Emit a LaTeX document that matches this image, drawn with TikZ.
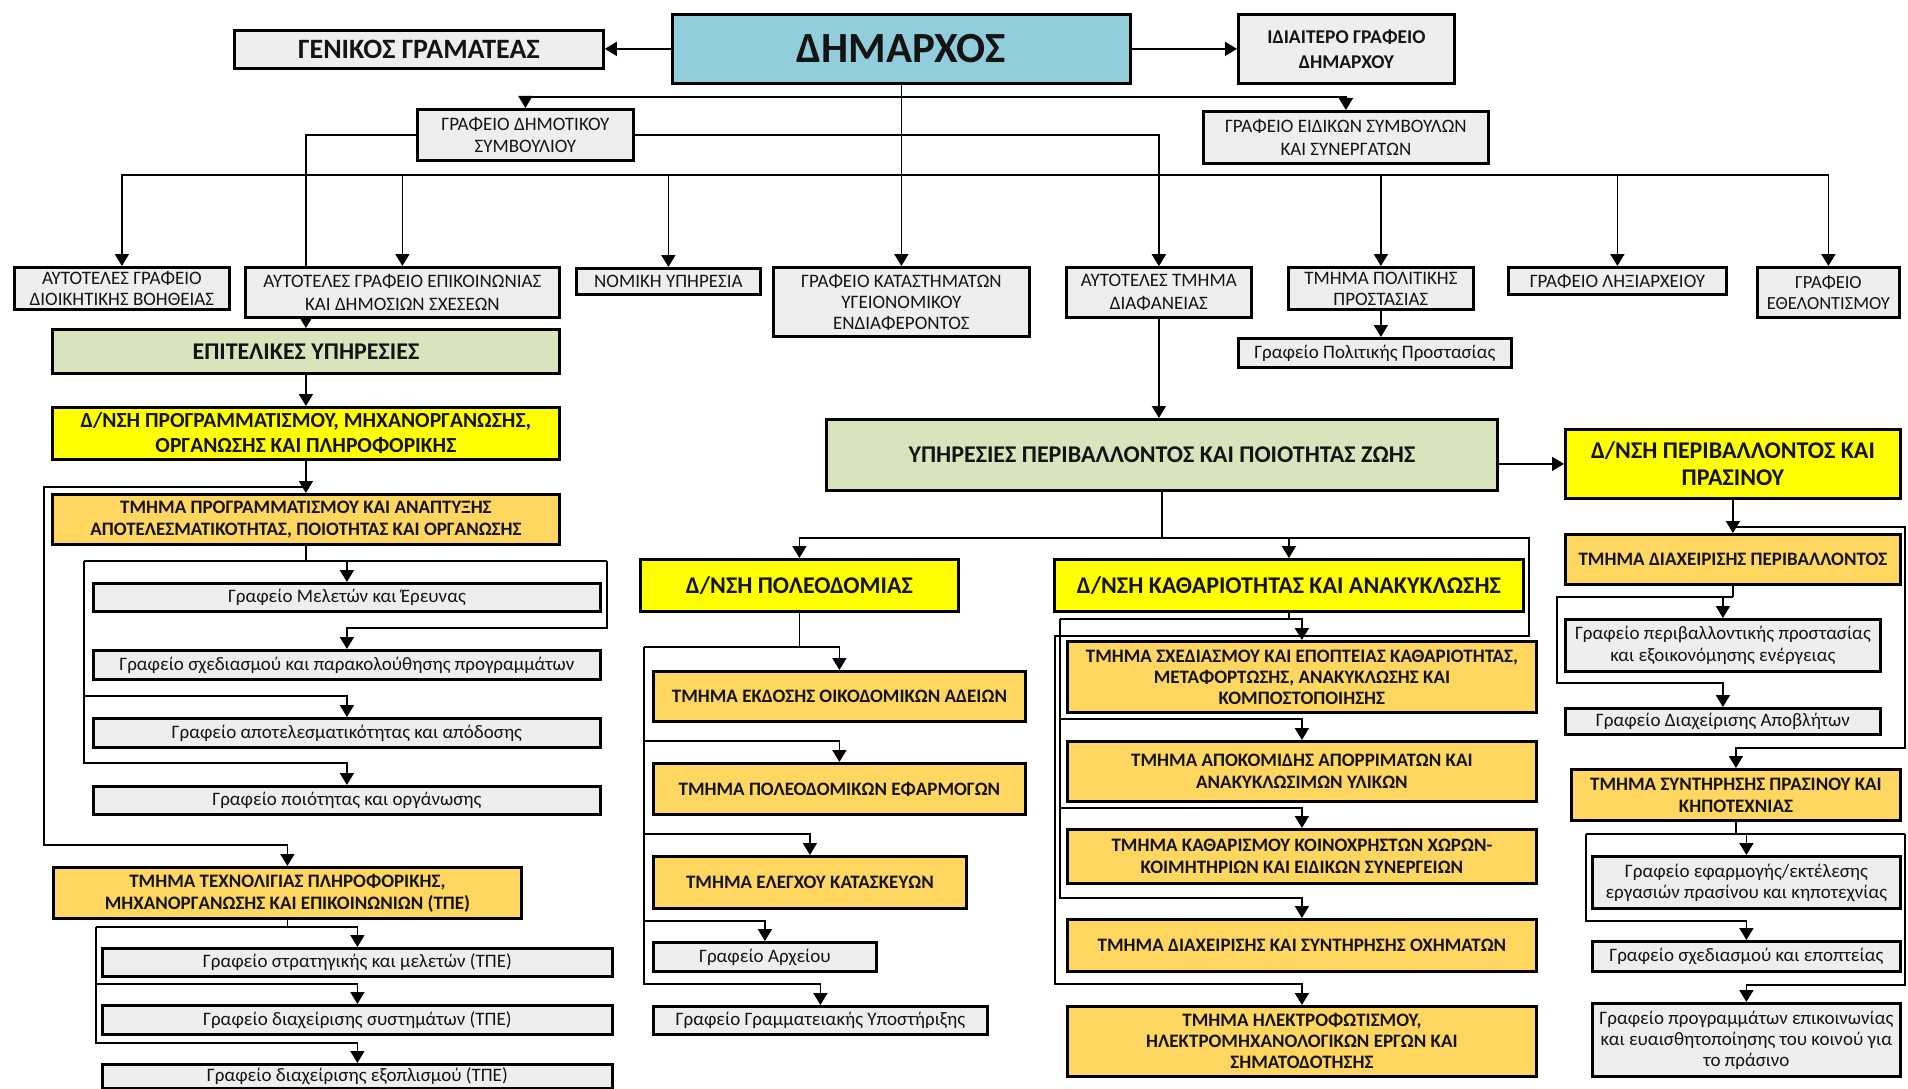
\documentclass[tikz,border=0pt]{standalone}
\usepackage{fontspec}
\setmainfont{Carlito}
\usetikzlibrary{arrows.meta}
\definecolor{gbox}{RGB}{238,238,238}
\definecolor{bluebox}{RGB}{146,205,220}
\definecolor{greenbox}{RGB}{216,228,188}
\definecolor{yelbox}{RGB}{255,255,0}
\definecolor{orbox}{RGB}{255,214,95}
\definecolor{txt}{RGB}{20,20,20}
\newcommand\bx[7]{%
  \pgfmathsetmacro\bxw{#4-#2}\pgfmathsetmacro\bxh{#5-#3}%
  \node[#6, anchor=north west, minimum width=\bxw pt, minimum height=\bxh pt] (#1) at (#2,#3) {#7};}
\tikzset{
  box/.style={draw=black, line width=2.8pt, inner sep=0.5pt, align=center, text=txt},
  gr/.style={box, fill=gbox, font=\fontsize{19}{22.5}\selectfont},
  grt/.style={box, fill=gbox, font=\fontsize{19}{21}\selectfont},
  grs/.style={box, fill=gbox, font=\fontsize{18.5}{21}\selectfont},
  grb/.style={box, fill=gbox, font=\bfseries\fontsize{19.5}{25}\selectfont},
  genb/.style={box, fill=gbox, font=\bfseries\fontsize{28}{32}\selectfont},
  dimb/.style={box, fill=bluebox, font=\bfseries\fontsize{43}{48}\selectfont},
  grn/.style={box, fill=greenbox, font=\bfseries\fontsize{24}{28}\selectfont},
  yel/.style={box, fill=yelbox, font=\bfseries\fontsize{21.5}{25}\selectfont},
  yelL/.style={box, fill=yelbox, font=\bfseries\fontsize{24}{27}\selectfont},
  orb/.style={box, fill=orbox, font=\bfseries\fontsize{19}{22}\selectfont},
  orbt/.style={box, fill=orbox, font=\bfseries\fontsize{19}{21}\selectfont},
  ln/.style={draw=black, line width=1.8pt},
  arr/.style={ln, -{Triangle[length=12pt,width=14pt]}}
}
\begin{document}
\begin{tikzpicture}[x=1pt,y=-1pt]
\fill[white] (0,0) rectangle (1908,1089);
\useasboundingbox (0,0) rectangle (1908,1089);
% top
\bx{GEN}{233}{29}{602}{67}{genb}{ΓΕΝΙΚΟΣ ΓΡΑΜΑΤΕΑΣ}
\bx{DIM}{671}{13}{1129}{82}{dimb}{ΔΗΜΑΡΧΟΣ}
\bx{IDI}{1237}{13}{1453}{82}{grb}{ΙΔΙΑΙΤΕΡΟ ΓΡΑΦΕΙΟ\\ΔΗΜΑΡΧΟΥ}
\bx{GDS}{416}{108}{632}{159}{gr}{ΓΡΑΦΕΙΟ ΔΗΜΟΤΙΚΟΥ\\ΣΥΜΒΟΥΛΙΟΥ}
\bx{GEI}{1202}{110}{1487}{162}{gr}{ΓΡΑΦΕΙΟ ΕΙΔΙΚΩΝ ΣΥΜΒΟΥΛΩΝ\\ΚΑΙ ΣΥΝΕΡΓΑΤΩΝ}
% row of offices
\bx{AGD}{13}{266}{228}{308}{grt}{ΑΥΤΟΤΕΛΕΣ ΓΡΑΦΕΙΟ\\ΔΙΟΙΚΗΤΙΚΗΣ ΒΟΗΘΕΙΑΣ}
\bx{AGE}{244}{266}{558}{316}{gr}{ΑΥΤΟΤΕΛΕΣ ΓΡΑΦΕΙΟ ΕΠΙΚΟΙΝΩΝΙΑΣ\\ΚΑΙ ΔΗΜΟΣΙΩΝ ΣΧΕΣΕΩΝ}
\bx{NOM}{575}{267}{759}{293}{gr}{ΝΟΜΙΚΗ ΥΠΗΡΕΣΙΑ}
\bx{GKA}{772}{266}{1028}{335}{grt}{ΓΡΑΦΕΙΟ ΚΑΤΑΣΤΗΜΑΤΩΝ\\ΥΓΕΙΟΝΟΜΙΚΟΥ\\ΕΝΔΙΑΦΕΡΟΝΤΟΣ}
\bx{ATD}{1065}{266}{1250}{316}{gr}{ΑΥΤΟΤΕΛΕΣ ΤΜΗΜΑ\\ΔΙΑΦΑΝΕΙΑΣ}
\bx{TPP}{1287}{266}{1472}{308}{grt}{ΤΜΗΜΑ ΠΟΛΙΤΙΚΗΣ\\ΠΡΟΣΤΑΣΙΑΣ}
\bx{GLX}{1507}{266}{1725}{293}{gr}{ΓΡΑΦΕΙΟ ΛΗΞΙΑΡΧΕΙΟΥ}
\bx{GETH}{1756}{266}{1898}{316}{grs}{ΓΡΑΦΕΙΟ\\ΕΘΕΛΟΝΤΙΣΜΟΥ}
\bx{GPPR}{1237}{337}{1510}{366}{gr}{Γραφείο Πολιτικής Προστασίας}
% left column
\bx{EPIT}{51}{328}{558}{372}{grn}{ΕΠΙΤΕΛΙΚΕΣ ΥΠΗΡΕΣΙΕΣ}
\bx{DNP}{51}{406}{558}{458}{yel}{Δ/ΝΣΗ ΠΡΟΓΡΑΜΜΑΤΙΣΜΟΥ, ΜΗΧΑΝΟΡΓΑΝΩΣΗΣ,\\ΟΡΓΑΝΩΣΗΣ ΚΑΙ ΠΛΗΡΟΦΟΡΙΚΗΣ}
\bx{TPA}{51}{493}{558}{543}{orb}{ΤΜΗΜΑ ΠΡΟΓΡΑΜΜΑΤΙΣΜΟΥ ΚΑΙ ΑΝΑΠΤΥΞΗΣ\\ΑΠΟΤΕΛΕΣΜΑΤΙΚΟΤΗΤΑΣ, ΠΟΙΟΤΗΤΑΣ ΚΑΙ ΟΡΓΑΝΩΣΗΣ}
\bx{GME}{92}{582}{599}{610}{gr}{Γραφείο Μελετών και Έρευνας}
\bx{GSX}{92}{649}{599}{678}{gr}{Γραφείο σχεδιασμού και παρακολούθησης προγραμμάτων}
\bx{GAP}{92}{717}{599}{746}{gr}{Γραφείο αποτελεσματικότητας και απόδοσης}
\bx{GPO}{92}{785}{599}{813}{gr}{Γραφείο ποιότητας και οργάνωσης}
\bx{TEX}{52}{866}{520}{917}{orb}{ΤΜΗΜΑ ΤΕΧΝΟΛΙΓΙΑΣ ΠΛΗΡΟΦΟΡΙΚΗΣ,\\ΜΗΧΑΝΟΡΓΑΝΩΣΗΣ ΚΑΙ ΕΠΙΚΟΙΝΩΝΙΩΝ (ΤΠΕ)}
\bx{GST}{101}{947}{611}{975}{gr}{Γραφείο στρατηγικής και μελετών (ΤΠΕ)}
\bx{GDSY}{101}{1004}{611}{1033}{gr}{Γραφείο διαχείρισης συστημάτων (ΤΠΕ)}
\bx{GEX}{101}{1063}{611}{1087}{gr}{Γραφείο διαχείρισης εξοπλισμού (ΤΠΕ)}
% middle
\bx{YPP}{825}{418}{1496}{489}{grn}{ΥΠΗΡΕΣΙΕΣ ΠΕΡΙΒΑΛΛΟΝΤΟΣ ΚΑΙ ΠΟΙΟΤΗΤΑΣ ΖΩΗΣ}
\bx{DPP}{1564}{428}{1899}{497}{yelL}{Δ/ΝΣΗ ΠΕΡΙΒΑΛΛΟΝΤΟΣ ΚΑΙ\\ΠΡΑΣΙΝΟΥ}
\bx{DPOL}{639}{558}{957}{610}{yelL}{Δ/ΝΣΗ ΠΟΛΕΟΔΟΜΙΑΣ}
\bx{DKA}{1053}{558}{1522}{610}{yelL}{Δ/ΝΣΗ ΚΑΘΑΡΙΟΤΗΤΑΣ ΚΑΙ ΑΝΑΚΥΚΛΩΣΗΣ}
\bx{TEK}{652}{670}{1024}{720}{orb}{ΤΜΗΜΑ ΕΚΔΟΣΗΣ ΟΙΚΟΔΟΜΙΚΩΝ ΑΔΕΙΩΝ}
\bx{TPE}{652}{762}{1024}{813}{orb}{ΤΜΗΜΑ ΠΟΛΕΟΔΟΜΙΚΩΝ ΕΦΑΡΜΟΓΩΝ}
\bx{TEL}{652}{855}{965}{907}{orb}{ΤΜΗΜΑ ΕΛΕΓΧΟΥ ΚΑΤΑΣΚΕΥΩΝ}
\bx{GAR}{652}{941}{875}{970}{gr}{Γραφείο Αρχείου}
\bx{GGR}{652}{1005}{986}{1033}{gr}{Γραφείο Γραμματειακής Υποστήριξης}
\bx{TSX}{1066}{640}{1535}{711}{orbt}{ΤΜΗΜΑ ΣΧΕΔΙΑΣΜΟΥ ΚΑΙ ΕΠΟΠΤΕΙΑΣ ΚΑΘΑΡΙΟΤΗΤΑΣ,\\ΜΕΤΑΦΟΡΤΩΣΗΣ, ΑΝΑΚΥΚΛΩΣΗΣ ΚΑΙ\\ΚΟΜΠΟΣΤΟΠΟΙΗΣΗΣ}
\bx{TAP}{1066}{740}{1535}{800}{orb}{ΤΜΗΜΑ ΑΠΟΚΟΜΙΔΗΣ ΑΠΟΡΡΙΜΑΤΩΝ ΚΑΙ\\ΑΝΑΚΥΚΛΩΣΙΜΩΝ ΥΛΙΚΩΝ}
\bx{TKA}{1066}{828}{1535}{882}{orb}{ΤΜΗΜΑ ΚΑΘΑΡΙΣΜΟΥ ΚΟΙΝΟΧΡΗΣΤΩΝ ΧΩΡΩΝ-\\ΚΟΙΜΗΤΗΡΙΩΝ ΚΑΙ ΕΙΔΙΚΩΝ ΣΥΝΕΡΓΕΙΩΝ}
\bx{TDS}{1066}{918}{1535}{970}{orb}{ΤΜΗΜΑ ΔΙΑΧΕΙΡΙΣΗΣ ΚΑΙ ΣΥΝΤΗΡΗΣΗΣ ΟΧΗΜΑΤΩΝ}
\bx{TIL}{1066}{1005}{1535}{1075}{orbt}{ΤΜΗΜΑ ΗΛΕΚΤΡΟΦΩΤΙΣΜΟΥ,\\ΗΛΕΚΤΡΟΜΗΧΑΝΟΛΟΓΙΚΩΝ ΕΡΓΩΝ ΚΑΙ\\ΣΗΜΑΤΟΔΟΤΗΣΗΣ}
% right column
\bx{TDP}{1564}{533}{1899}{583}{orb}{ΤΜΗΜΑ ΔΙΑΧΕΙΡΙΣΗΣ ΠΕΡΙΒΑΛΛΟΝΤΟΣ}
\bx{GPP}{1564}{618}{1879}{670}{gr}{Γραφείο περιβαλλοντικής προστασίας\\και εξοικονόμησης ενέργειας}
\bx{GDA}{1564}{707}{1879}{733}{gr}{Γραφείο Διαχείρισης Αποβλήτων}
\bx{TSP}{1570}{768}{1899}{819}{orb}{ΤΜΗΜΑ ΣΥΝΤΗΡΗΣΗΣ ΠΡΑΣΙΝΟΥ ΚΑΙ\\ΚΗΠΟΤΕΧΝΙΑΣ}
\bx{GEF}{1591}{855}{1899}{907}{grt}{Γραφείο εφαρμογής/εκτέλεσης\\εργασιών πρασίνου και κηποτεχνίας}
\bx{GSE}{1591}{940}{1899}{970}{gr}{Γραφείο σχεδιασμού και εποπτείας}
\bx{GPR}{1591}{1002}{1899}{1075}{grt}{Γραφείο προγραμμάτων επικοινωνίας\\και ευαισθητοποίησης του κοινού για\\το πράσινο}

% ---------- connectors ----------
\coordinate (j1) at (900,97);
\coordinate (j2) at (900,175);
\draw[arr] (DIM.west) -- (DIM.west -| GEN.east);
\draw[arr] (DIM.east) -- (DIM.east -| IDI.west);
\draw[arr] (DIM.south) -- (GKA.north);
\draw[arr] (j1) -| (GDS.north);
\draw[arr] (j1) -| (GEI.north);
\draw[arr] (j2) -| (AGD.north);
\draw[arr] (j2) -| (AGE.north);
\draw[arr] (j2) -| (NOM.north);
\draw[arr] (j2) -| (ATD.north);
\draw[arr] (j2) -| (TPP.north);
\draw[arr] (j2) -| (GLX.north);
\draw[arr] (j2) -| (GETH.north);
\draw[ln] (GDS.west) -| (AGE.north -| EPIT.north);
\draw[arr] (GDS.east) -| (ATD.north);
\draw[arr] (AGE.south -| EPIT.north) -- (EPIT.north);
\draw[arr] (TPP.south) -- (TPP.south |- GPPR.north);
% left column
\draw[arr] (EPIT.south) -- (DNP.north);
\draw[arr] (DNP.south) -- (TPA.north);
\coordinate (c1) at (44,487);
\coordinate (c2) at (44,845);
\draw[arr] (DNP.south |- c1) -- (c1) -- (c2) -| (TEX.north);
\coordinate (t1) at (84,561);
\coordinate (t2) at (607,561);
\coordinate (t3) at (607,628);
\coordinate (t4) at (84,696);
\coordinate (t5) at (84,763);
\draw[ln] (TPA.south) -- (TPA.south |- t1);
\draw[ln] (t1) -- (t2);
\draw[arr] (GME.north |- t1) -- (GME.north);
\draw[arr] (t2) -- (t3) -| (GSX.north);
\draw[arr] (t1) -- (t4) -| (GAP.north);
\draw[arr] (t4) -- (t5) -| (GPO.north);
\coordinate (u1) at (96,927);
\coordinate (u2) at (96,984);
\coordinate (u3) at (96,1043);
\draw[ln] (TEX.south) -- (TEX.south |- u1);
\draw[arr] (u1) -| (GST.north);
\draw[arr] (u1) -- (u2) -| (GDSY.north);
\draw[arr] (u2) -- (u3) -| (GEX.north);
% middle
\draw[arr] (ATD.south) -- (ATD.south |- YPP.north);
\draw[arr] (YPP.east |- DPP.west) -- (DPP.west);
\coordinate (w1) at (799,538);
\coordinate (w2) at (1529,538);
\coordinate (w3) at (1529,636);
\coordinate (w4) at (1055,636);
\coordinate (w5) at (1055,984);
\draw[ln] (YPP.south) -- (YPP.south |- w1);
\draw[arr] (YPP.south |- w1) -| (DPOL.north);
\draw[arr] (YPP.south |- w1) -| (DKA.north);
\draw[arr] (DKA.north |- w1) -- (w2) -- (w3) -- (w4) -- (w5) -| (TIL.north);
\coordinate (p1) at (644,647);
\coordinate (p2) at (644,741);
\coordinate (p3) at (644,834);
\coordinate (p4) at (644,921);
\coordinate (p5) at (644,984);
\draw[ln] (DPOL.south) -- (DPOL.south |- p1);
\draw[arr] (p1) -| (TEK.north);
\draw[arr] (p1) -- (p2) -| (TPE.north);
\draw[arr] (p2) -- (p3) -| (TEL.north);
\draw[arr] (p3) -- (p4) -| (GAR.north);
\draw[arr] (p4) -- (p5) -| (GGR.north);
\coordinate (k1) at (1060,619);
\coordinate (k2) at (1060,719);
\coordinate (k3) at (1060,808);
\coordinate (k4) at (1060,898);
\draw[ln] (DKA.south) -- (DKA.south |- k1);
\draw[arr] (k1) -| (TSX.north);
\draw[arr] (k1) -- (k2) -| (TAP.north);
\draw[arr] (k2) -- (k3) -| (TKA.north);
\draw[arr] (k3) -- (k4) -| (TDS.north);
% right column
\draw[arr] (DPP.south) -- (TDP.north);
\coordinate (r1) at (1905,527);
\coordinate (r2) at (1905,748);
\draw[arr] (DPP.south |- r1) -- (r1) -- (r2) -| (TSP.north);
\coordinate (e1) at (1557,597);
\coordinate (e2) at (1557,683);
\draw[ln] (TDP.south) -- (TDP.south |- e1);
\draw[arr] (TDP.south |- e1) -- (e1) -- (e2) -| (GDA.north);
\draw[arr] (e1) -| (GPP.north);
\coordinate (g1) at (1586,834);
\coordinate (g2) at (1586,921);
\coordinate (g3) at (1905,834);
\coordinate (g4) at (1905,985);
\draw[ln] (TSP.south) -- (TSP.south |- g1);
\draw[ln] (g1) -- (g3);
\draw[arr] (g1) -| (GEF.north);
\draw[arr] (g1) -- (g2) -| (GSE.north);
\draw[arr] (g3) -- (g4) -| (GPR.north);
\end{tikzpicture}
\end{document}
